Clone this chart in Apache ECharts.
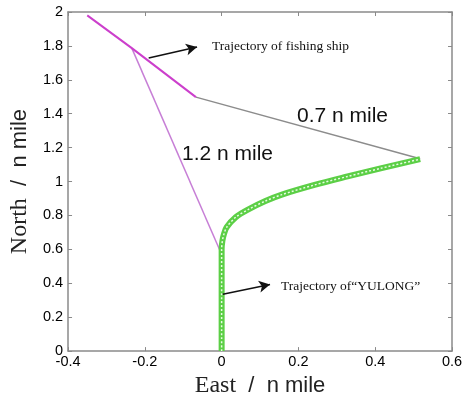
<!DOCTYPE html>
<html>
<head>
<meta charset="utf-8">
<script src="https://cdn.jsdelivr.net/npm/echarts@6/dist/echarts.min.js"></script>
<style>html,body{margin:0;padding:0;background:#fff}#c{width:466px;height:403px}</style>
</head>
<body>
<div id="c"></div>
<script>
// Data
const xTicks = [-0.4, -0.2, 0, 0.2, 0.4, 0.6];
const yTicks = [0, 0.2, 0.4, 0.6, 0.8, 1, 1.2, 1.4, 1.6, 1.8, 2];
const fishingShip = [[-0.35, 1.98], [-0.234, 1.787], [-0.067, 1.498]];
const distance07 = [[-0.067, 1.498], [0.517, 1.134]];
const distance12 = [[-0.234, 1.787], [-0.005, 0.596]];
const yulong = [[0, 0], [0, 0.3], [0, 0.6], [0.002, 0.65], [0.006, 0.69], [0.013, 0.73],
  [0.037, 0.79], [0.071, 0.837], [0.114, 0.885], [0.157, 0.923], [0.242, 0.98],
  [0.328, 1.03], [0.414, 1.078], [0.517, 1.132]];
const arrowShip = [[-0.190, 1.729], [-0.064, 1.793]];
const arrowYulong = [[0.003, 0.335], [0.126, 0.393]];

const axisCommon = {
  min: xTicks[0], max: xTicks[xTicks.length - 1], interval: 0.2,
  axisLine: {show: true, onZero: false, lineStyle: {color: '#8a8a8a', width: 1.5}},
  axisTick: {show: true, inside: true, length: 4, lineStyle: {color: '#8a8a8a'}},
  splitLine: {show: false}
};
const yCommon = {
  min: yTicks[0], max: yTicks[yTicks.length - 1], interval: 0.2,
  axisLine: {show: true, onZero: false, lineStyle: {color: '#8a8a8a', width: 1.5}},
  axisTick: {show: true, inside: true, length: 4, lineStyle: {color: '#8a8a8a'}},
  splitLine: {show: false}
};
const fmt = v => { const r = Math.round(v * 10) / 10; return String(r); };

const chart = echarts.init(document.getElementById('c'));
chart.setOption({
  animation: false,
  backgroundColor: '#fff',
  grid: {left: 64, right: 14, top: 12, bottom: 45},
  xAxis: [
    Object.assign({}, axisCommon, {
      type: 'value', position: 'bottom',
      axisLabel: {color: '#000', fontFamily: 'Liberation Sans', fontSize: 14.5, margin: 3, formatter: fmt},
      name: '{a|East}{b|  /  n mile}', nameLocation: 'middle', nameGap: 20,
      nameTextStyle: {rich: {
        a: {fontFamily: 'Liberation Serif', fontSize: 24, color: '#222'},
        b: {fontFamily: 'Liberation Sans', fontSize: 22, color: '#222'}
      }}
    }),
    Object.assign({}, axisCommon, {type: 'value', position: 'top', axisLabel: {show: false}})
  ],
  yAxis: [
    Object.assign({}, yCommon, {
      type: 'value', position: 'left',
      axisLabel: {color: '#000', fontFamily: 'Liberation Sans', fontSize: 14.5, margin: 5, formatter: fmt},
      name: '{a|North}{b|  /  n mile}', nameLocation: 'middle', nameGap: 32,
      nameTextStyle: {rich: {
        a: {fontFamily: 'Liberation Serif', fontSize: 24, color: '#222'},
        b: {fontFamily: 'Liberation Sans', fontSize: 22, color: '#222'}
      }}
    }),
    Object.assign({}, yCommon, {type: 'value', position: 'right', axisLabel: {show: false}})
  ],
  series: [
    {type: 'line', data: distance07, symbol: 'none', lineStyle: {color: '#8c8c8c', width: 1.5}, z: 2},
    {type: 'line', data: distance12, symbol: 'none', lineStyle: {color: '#c77fd6', width: 1.5}, z: 2},
    {type: 'line', data: yulong, symbol: 'none', smooth: 0.3, lineStyle: {color: '#5ccf46', width: 6}, z: 3},
    {type: 'line', data: yulong, symbol: 'none', smooth: 0.3, lineStyle: {color: '#e8fbe4', width: 1.5, type: [2, 2]}, z: 4},
    {type: 'line', data: fishingShip, symbol: 'none', lineStyle: {color: '#cc3fcc', width: 2}, z: 5,
      markLine: {
        silent: true, symbol: ['none', 'arrow'], symbolSize: [9, 11],
        lineStyle: {color: '#111', width: 1.5, type: 'solid'},
        label: {show: false},
        data: [
          [{coord: arrowShip[0]}, {coord: arrowShip[1]}],
          [{coord: arrowYulong[0]}, {coord: arrowYulong[1]}]
        ]
      }
    }
  ],
  graphic: [
    {type: 'text', left: 212, top: 39, style: {text: 'Trajectory of fishing ship', font: '13.5px "Liberation Serif"', fill: '#111'}},
    {type: 'text', left: 281, top: 279, style: {text: 'Trajectory of“YULONG”', font: '13.5px "Liberation Serif"', fill: '#111'}},
    {type: 'text', left: 297, top: 106, style: {text: '0.7 n mile', font: '21px "Liberation Sans"', fill: '#111'}},
    {type: 'text', left: 182, top: 144, style: {text: '1.2 n mile', font: '21px "Liberation Sans"', fill: '#111'}}
  ]
});
</script>
</body>
</html>
